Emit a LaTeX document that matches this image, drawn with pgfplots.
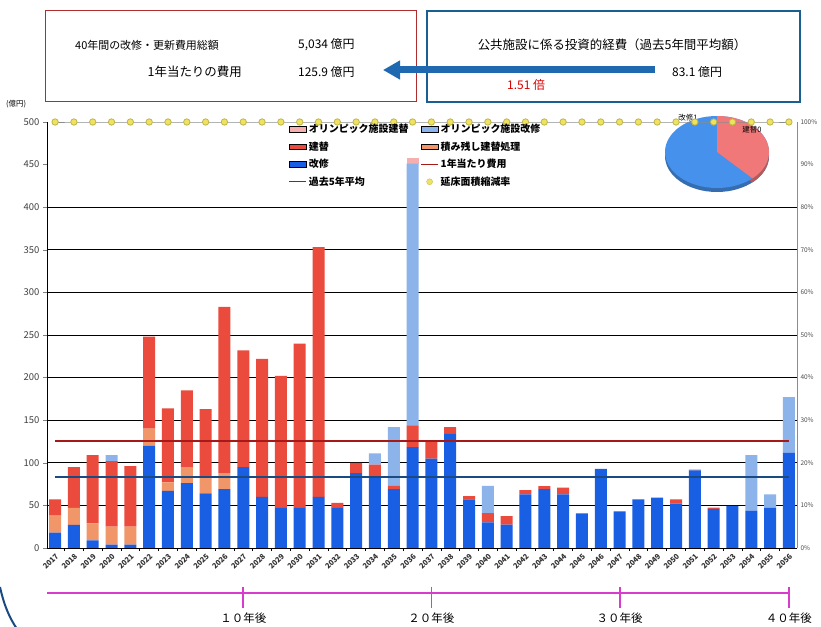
\documentclass[border=0pt]{standalone}
\usepackage{fontspec}
\setmainfont{Noto Sans CJK JP}
\usepackage{pgfplots}
\pgfplotsset{compat=1.18}
\usepackage{pgfplotstable}
\usetikzlibrary{arrows.meta}

\definecolor{kaishu}{RGB}{25,95,228}
\definecolor{tatekae}{RGB}{235,75,60}
\definecolor{tsumi}{RGB}{240,150,105}
\definecolor{olkai}{RGB}{140,180,235}
\definecolor{oltate}{RGB}{245,175,175}
\definecolor{avgline}{RGB}{25,75,130}
\definecolor{costline}{RGB}{165,25,25}
\definecolor{dotfill}{RGB}{238,226,95}
\definecolor{magline}{RGB}{215,60,205}
\definecolor{boxblue}{RGB}{25,95,145}
\definecolor{boxred}{RGB}{175,45,45}
\definecolor{arrowblue}{RGB}{30,105,175}
\definecolor{piered}{RGB}{240,120,120}
\definecolor{pieblue}{RGB}{70,145,235}

\pgfplotstableread{
year blue org red lb pk
2017 18 20 19 0 0
2018 27 20 48 0 0
2019 9 20 80 0 0
2020 4 21 77 7 0
2021 4 21 71 0 0
2022 120 20 108 0 0
2023 67 10 87 0 0
2024 76 19 90 0 0
2025 64 19 80 0 0
2026 69 19 195 0 0
2027 95 0 137 0 0
2028 60 0 162 0 0
2029 47 0 155 0 0
2030 47 0 193 0 0
2031 60 0 293 0 0
2032 47 0 6 0 0
2033 88 0 12 0 0
2034 84.5 0 13.5 13 0
2035 69 0 4 69 0
2036 118.5 0 25.5 307 7
2037 105 0 21 0 0
2038 134 0 8 0 0
2039 57 0 4 0 0
2040 30 0 11 32 0
2041 27.5 0 10 0 0
2042 63 0 5 0 0
2043 69 0 3.5 0 0
2044 63 0 8 0 0
2045 40.5 0 0 0 0
2046 93 0 0 0 0
2047 43 0 0 0 0
2048 57 0 0 0 0
2049 59 0 0 0 0
2050 52 0 5 0 0
2051 91 0 1 0 0
2052 46 0 1.5 0 0
2053 49.5 0 0 0 0
2054 44 0 0 65 0
2055 47 0 0 16 0
2056 112 0 0 65 0
}\bars

\begin{document}
\begin{tikzpicture}
\useasboundingbox (0,0) rectangle (821bp,627bp);
\fill[white] (0,0) rectangle (821bp,627bp);

% top boxes
\draw[boxred, line width=1bp] (45bp,525bp) rectangle (416bp,616bp);
\draw[boxblue, line width=2bp] (427bp,525bp) rectangle (800bp,616bp);
\begin{scope}[every node/.style={font=\fontsize{12}{14}\selectfont, inner sep=0pt}]
\node[anchor=west, font=\fontsize{11}{13}\selectfont] at (75bp,582bp) {40年間の改修・更新費用総額};
\node[anchor=west] at (298bp,582bp) {5,034 億円};
\node[anchor=east, font=\fontsize{12.5}{14}\selectfont] at (242bp,555bp) {1年当たりの費用};
\node[anchor=west] at (298bp,555bp) {125.9 億円};
\node[font=\fontsize{12.5}{14}\selectfont] at (612bp,582bp) {公共施設に係る投資的経費（過去5年間平均額）};
\node[anchor=west] at (672bp,555bp) {83.1 億円};
\node[anchor=west, text=red!85!black] at (507bp,542bp) {1.51 倍};
\end{scope}
\draw[arrowblue, line width=7bp, -{Triangle[length=17bp,width=18bp]}] (655bp,557bp) -- (383bp,557bp);
\node[anchor=west, font=\fontsize{7.5}{8}\selectfont, inner sep=0pt] at (6bp,523bp) {(億円)};

% pie
\fill[pieblue!75!black] (717bp,471bp) ellipse [x radius=52bp, y radius=36bp];
\fill[piered!75!black] (717bp,471bp) -- ++(0bp,36bp) arc[start angle=90, end angle=-47, x radius=52bp, y radius=36bp] -- cycle;
\fill[pieblue] (717bp,475bp) ellipse [x radius=52bp, y radius=36bp];
\fill[piered] (717bp,475bp) -- ++(0bp,36bp) arc[start angle=90, end angle=-47, x radius=52bp, y radius=36bp] -- cycle;
\node[font=\fontsize{7.5}{8}\selectfont, inner sep=0pt] at (688bp,509bp) {改修1};
\node[font=\fontsize{7.5}{8}\selectfont, inner sep=0pt] at (752bp,497bp) {建替0};

\begin{axis}[
  at={(47bp,79bp)}, anchor=south west,
  width=750bp, height=426bp, scale only axis,
  xmin=2016.57, xmax=2056.43, ymin=0, ymax=500,
  ybar stacked, bar width=12bp,
  axis x line*=bottom, axis y line*=left,
  axis line style={black, line width=0.9bp, -},
  xtick={2017,...,2056},
  xticklabel style={rotate=45, anchor=north east, font=\bfseries\fontsize{7.5}{8}\selectfont, inner sep=0.5bp, text=black!80},
  major x tick style={draw=none},
  minor xtick={2016.5,2017.5,...,2056.5},
  minor x tick style={black, line width=0.6bp},
  minor tick length=3bp,
  ytick={0,50,...,400}, extra y ticks={450,500}, extra y tick style={grid=none},
  ymajorgrids, grid style={black, line width=0.9bp},
  yticklabel style={font=\fontsize{9.5}{10}\selectfont, text=black!75},
  tick align=outside, major tick length=4bp,
  /pgf/number format/1000 sep={}, /pgf/number format/assume math mode=true,
]
\addplot[fill=kaishu, draw=none] table[x=year,y=blue]{\bars};
\addplot[fill=tsumi, draw=none] table[x=year,y=org]{\bars};
\addplot[fill=tatekae, draw=none] table[x=year,y=red]{\bars};
\addplot[fill=olkai, draw=none] table[x=year,y=lb]{\bars};
\addplot[fill=oltate, draw=none] table[x=year,y=pk]{\bars};
\end{axis}

\begin{axis}[
  at={(47bp,79bp)}, anchor=south west,
  width=750bp, height=426bp, scale only axis,
  xmin=2016.57, xmax=2056.43, ymin=0, ymax=500,
  axis x line=none, axis y line*=right,
  axis line style={black!45, line width=1bp, -},
  ytick={0,50,...,500},
  yticklabels={0\%,10\%,20\%,30\%,40\%,50\%,60\%,70\%,80\%,90\%,100\%},
  yticklabel style={font=\fontsize{6.5}{7}\selectfont, text=black!70},
  major tick length=0bp,
  clip=false,
  legend columns=2,
  legend cell align=left,
  legend style={at={(0.318,1.005)}, anchor=north west, draw=none, fill=none,
    font=\bfseries\fontsize{10}{11}\selectfont, row sep=3.5bp,
    /tikz/every even column/.append style={column sep=10bp}},
]
\addlegendimage{area legend, fill=oltate, draw=none}
\addlegendentry{オリンピック施設建替}
\addlegendimage{area legend, fill=olkai, draw=none}
\addlegendentry{オリンピック施設改修}
\addlegendimage{area legend, fill=tatekae, draw=none}
\addlegendentry{建替}
\addlegendimage{area legend, fill=tsumi, draw=none}
\addlegendentry{積み残し建替処理}
\addlegendimage{area legend, fill=kaishu, draw=none}
\addlegendentry{改修}
\addlegendimage{costline, line width=1.2bp}
\addlegendentry{1年当たり費用}
\addlegendimage{avgline, line width=1.2bp}
\addlegendentry{過去5年平均}
\addlegendimage{only marks, mark=*, mark size=3bp, mark options={fill=dotfill, draw=dotfill!85!black}}
\addlegendentry{延床面積縮減率}

\addplot[costline, line width=1.6bp, forget plot] coordinates {(2017,125.9) (2056,125.9)};
\addplot[avgline, line width=1.6bp, forget plot] coordinates {(2017,83.1) (2056,83.1)};
\addplot[black!45, line width=0.8bp, mark=*, mark size=3.2bp,
  mark options={fill=dotfill, draw=dotfill!80!black}, forget plot] coordinates {
(2017,500) (2018,500) (2019,500) (2020,500) (2021,500) (2022,500) (2023,500) (2024,500)
(2025,500) (2026,500) (2027,500) (2028,500) (2029,500) (2030,500) (2031,500) (2032,500)
(2033,500) (2034,500) (2035,500) (2036,500) (2037,500) (2038,500) (2039,500) (2040,500)
(2041,500) (2042,500) (2043,500) (2044,500) (2045,500) (2046,500) (2047,500) (2048,500)
(2049,500) (2050,500) (2051,500) (2052,500) (2053,500) (2054,500) (2055,500) (2056,500)};
\end{axis}

% bottom time scale
\draw[magline, line width=1.8bp] (47bp,34bp) -- (789bp,34bp);
\foreach \xx/\lab in {243.3/１０年後, 431.4/２０年後, 619.6/３０年後, 788.9/４０年後}{
  \draw[magline, line width=1.8bp] (\xx bp,40bp) -- (\xx bp,19bp);
  \node[font=\fontsize{11.5}{12}\selectfont, inner sep=0pt] at (\xx bp,9bp) {\lab};
}
\draw[avgline, line width=2bp] (0bp,40bp) .. controls (4bp,22bp) and (9bp,10bp) .. (17bp,-2bp);
\end{tikzpicture}
\end{document}
